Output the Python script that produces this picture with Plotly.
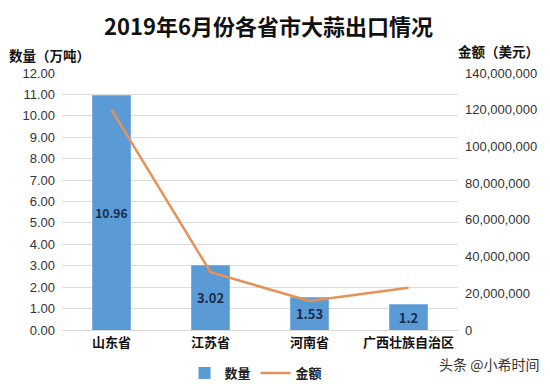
import plotly.graph_objects as go

categories = ["山东省", "江苏省", "河南省", "广西壮族自治区"]
quantity = [10.96, 3.02, 1.53, 1.2]
amount = [120000000, 31500000, 15800000, 23000000]
left_ticks = [0, 1, 2, 3, 4, 5, 6, 7, 8, 9, 10, 11, 12]
right_ticks = [0, 20000000, 40000000, 60000000, 80000000, 100000000, 120000000, 140000000]

FONT = "Noto Sans CJK SC"
W, H = 550, 384
ML, MR, MT, MB = 62, 92, 73, 54

fig = go.Figure()
fig.add_trace(go.Bar(
    x=categories, y=quantity, name="<b>数量</b>",
    marker=dict(color="#5B9BD5", line=dict(width=0)),
    width=0.39,
    text=[f"<b>{v}</b>" for v in quantity],
    textposition="inside", insidetextanchor="middle", textangle=0,
    textfont=dict(family=FONT, size=13, color="#1A2A48"),
    yaxis="y",
))
fig.add_trace(go.Scatter(
    x=categories, y=amount, name="<b>金额</b>", mode="lines",
    line=dict(color="#E3925A", width=2.5),
    yaxis="y2",
))

def px(x):
    return (x - ML) / (W - ML - MR)

def py(y):
    return (H - MB - y) / (H - MT - MB)

fig.update_layout(
    width=W, height=H,
    margin=dict(l=ML, r=MR, t=MT, b=MB, autoexpand=False),
    paper_bgcolor="white", plot_bgcolor="white",
    font=dict(family=FONT, size=12, color="#404040"),
    showlegend=True,
    legend=dict(orientation="h", x=0.49, xanchor="center",
                yref="container", y=(H - 358) / H, yanchor="top",
                font=dict(family=FONT, size=13, color="#222222"),
                itemwidth=30, traceorder="normal", tracegroupgap=0),
    xaxis=dict(showgrid=False, showline=True, linecolor="#D9D9D9", ticks="",
               automargin=False,
               tickfont=dict(family=FONT, size=13, color="#111111"),
               tickvals=categories,
               ticktext=[f"<b>{c}</b>" for c in categories]),
    yaxis=dict(range=[0, 12], tickvals=left_ticks, automargin=False,
               ticktext=[f"{v:.2f}" for v in left_ticks],
               showgrid=True, gridcolor="#DDDDDD", gridwidth=1, zeroline=False,
               tickfont=dict(family="Liberation Sans", size=13, color="#333333"),
               ticks="", ticklabelstandoff=6),
    yaxis2=dict(range=[0, 140000000], tickvals=right_ticks, automargin=False,
                ticktext=[f"{v:,}" for v in right_ticks],
                overlaying="y", side="right", showgrid=False, zeroline=False,
                tickfont=dict(family="Liberation Sans", size=13, color="#333333"),
                ticks="", ticklabelstandoff=6),
    annotations=[
        dict(text="<b>2019年6月份各省市大蒜出口情况</b>", x=px(268), y=py(25),
             xref="paper", yref="paper", showarrow=False, xanchor="center", yanchor="middle",
             font=dict(family=FONT, size=22, color="#111111")),
        dict(text="<b>数量（万吨）</b>", x=px(7), y=py(55), xref="paper", yref="paper",
             showarrow=False, xanchor="left", yanchor="middle",
             font=dict(family=FONT, size=13.5, color="#111111")),
        dict(text="<b>金额（美元）</b>", x=px(541), y=py(51), xref="paper", yref="paper",
             showarrow=False, xanchor="right", yanchor="middle",
             font=dict(family=FONT, size=13.5, color="#111111")),
        dict(text="头条 @小希时间", x=px(541), y=py(364), xref="paper", yref="paper",
             showarrow=False, xanchor="right", yanchor="middle",
             font=dict(family=FONT, size=14, color="#333333")),
    ],
)

fig.write_html("out.html",
               config={"displayModeBar": False},
               post_script="document.body.style.margin='0';document.body.style.overflow='hidden';")
